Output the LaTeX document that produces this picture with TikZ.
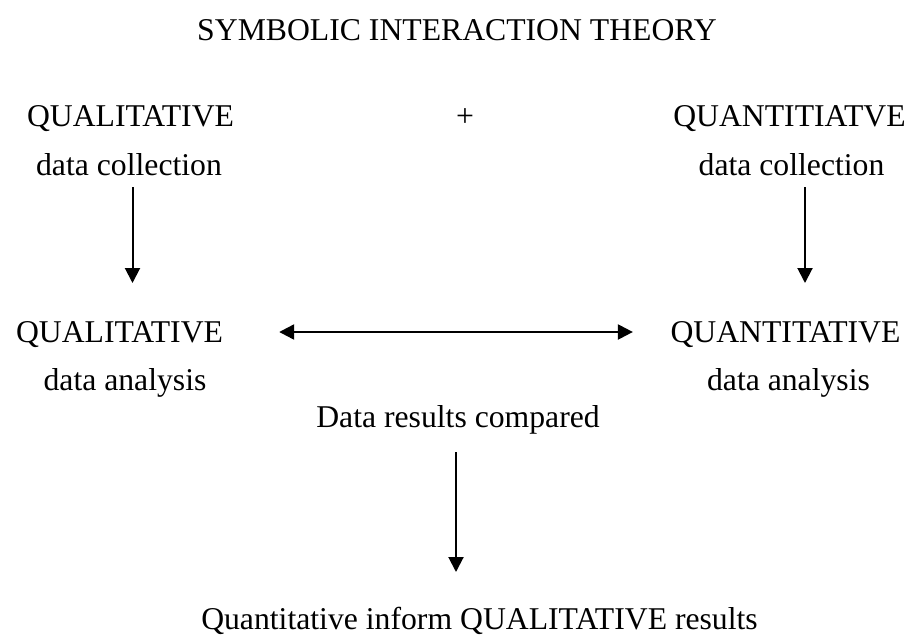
\documentclass[tikz,border=0pt]{standalone}
\usepackage{fontspec}
\setmainfont{Liberation Serif}
\usetikzlibrary{arrows.meta}
\begin{document}
\begin{tikzpicture}[x=1pt,y=-1pt,
  lbl/.style={anchor=base,inner sep=0pt,font=\fontsize{31.7}{38}\selectfont},
  arr/.style={line width=2pt,-{Triangle[length=15pt,width=15pt]}},
  dblarr/.style={line width=2.3pt,{Triangle[length=15pt,width=15pt]}-{Triangle[length=15pt,width=15pt]}}]
\useasboundingbox (0,0) rectangle (912,637);

% headings and labels
\node[lbl] (title) at (457,40) {SYMBOLIC INTERACTION THEORY};
\node[lbl] (qlTop) at (130.5,126) {QUALITATIVE};
\node[lbl] (plus)  at (465,126) {+};
\node[lbl] (qnTop) at (789.5,126) {QUANTITIATVE};
\node[lbl] (dcL)   at (129,175) {data collection};
\node[lbl] (dcR)   at (791.5,175) {data collection};
\node[lbl] (qlMid) at (119.5,342) {QUALITATIVE};
\node[lbl] (qnMid) at (785.5,342) {QUANTITATIVE};
\node[lbl] (daL)   at (125,390) {data analysis};
\node[lbl] (daR)   at (788.5,390) {data analysis};
\node[lbl] (cmp)   at (458,427) {Data results compared};
\node[lbl] (res)   at (479.5,629) {Quantitative inform QUALITATIVE results};

% connectors
\draw[arr] ([xshift=3.5pt,yshift=-12pt]dcL.base) -- ([xshift=13pt,yshift=59pt]qlMid.base);
\draw[arr] ([xshift=13.5pt,yshift=-12pt]dcR.base) -- ([xshift=19.5pt,yshift=59pt]qnMid.base);
\draw[dblarr] ([xshift=56pt,yshift=10pt]qlMid.base east) -- ([xshift=-37.5pt,yshift=10pt]qnMid.base west);
\draw[arr] ([xshift=-2pt,yshift=-25pt]cmp.base) -- ([xshift=-23.5pt,yshift=57pt]res.base);
\end{tikzpicture}
\end{document}
